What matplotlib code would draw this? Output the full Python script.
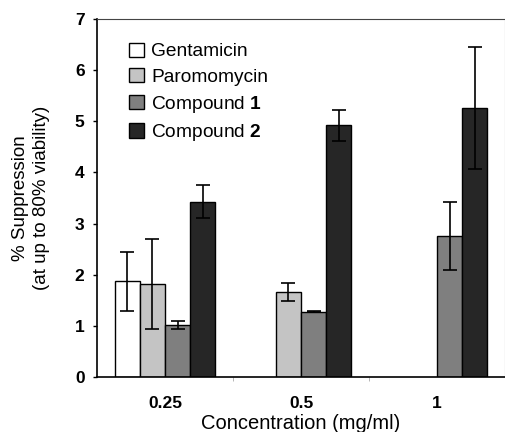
import matplotlib
matplotlib.use('Agg')
import matplotlib.pyplot as plt
import numpy as np

plt.rcParams['font.family'] = ['Liberation Sans', 'DejaVu Sans']
plt.rcParams['mathtext.fontset'] = 'custom'
plt.rcParams['mathtext.rm'] = 'Liberation Sans'
plt.rcParams['mathtext.bf'] = 'Liberation Sans:bold'

# data
concentrations = ['0.25', '0.5', '1']
series_names = ['Gentamicin', 'Paromomycin', r'Compound $\mathbf{1}$', r'Compound $\mathbf{2}$']
gentamicin = [1.87, 0.0, 0.0]
gentamicin_err = [0.57, 0.0, 0.0]
paromomycin = [1.81, 1.66, 0.0]
paromomycin_err = [0.88, 0.18, 0.0]
compound1 = [1.02, 1.28, 2.76]
compound1_err = [0.08, 0.01, 0.66]
compound2 = [3.43, 4.92, 5.26]
compound2_err = [0.33, 0.31, 1.2]

colors = ['#ffffff', '#c4c4c4', '#7f7f7f', '#262626']

fig = plt.figure(figsize=(5.05, 4.32), dpi=100)
ax = fig.add_axes([97/505, 1 - 377/432, 408/505, 358/432])

values = [gentamicin, paromomycin, compound1, compound2]
errors = [gentamicin_err, paromomycin_err, compound1_err, compound2_err]
x = np.arange(len(concentrations)) + 0.5
width = 0.185
for i in range(4):
    pos = x + (i - 1.5) * width
    vals = np.array(values[i])
    errs = np.array(errors[i])
    show = vals > 0
    ax.bar(pos[show], vals[show], width, color=colors[i], edgecolor='black',
           linewidth=1.0, label=series_names[i])
    ax.errorbar(pos[show], vals[show], yerr=errs[show], fmt='none',
                ecolor='black', elinewidth=1.2, capsize=5, capthick=1.2)

ax.set_xlim(0, 3)
ax.set_ylim(0, 7)
ax.set_yticks(range(8))
ax.set_yticklabels([str(v) for v in range(8)], fontweight='bold', fontsize=12.5)
ax.set_xticks(x)
ax.set_xticklabels(concentrations, fontweight='bold', fontsize=12.5)
ax.tick_params(axis='x', length=0, pad=14)
ax.set_xticks([1, 2], minor=True)
ax.tick_params(axis='x', which='minor', length=3, color='#aaaaaa')
ax.tick_params(axis='y', length=3, width=1, pad=6)

for s in ['left', 'bottom']:
    ax.spines[s].set_linewidth(1.2)
ax.spines['top'].set_color('#444444')
ax.spines['right'].set_color('#888888')

ax.set_xlabel('Concentration (mg/ml)', fontsize=14.5, labelpad=2)
ax.set_ylabel('% Suppression\n(at up to 80% viability)', fontsize=13.5,
              labelpad=18, linespacing=1.3)

leg = ax.legend(loc='upper left', bbox_to_anchor=(0.06, 0.955), frameon=False,
                fontsize=13.8, handlelength=0.75, handleheight=0.75,
                handletextpad=0.4, labelspacing=0.4, borderaxespad=0)

fig.savefig('out.png', dpi=100)
